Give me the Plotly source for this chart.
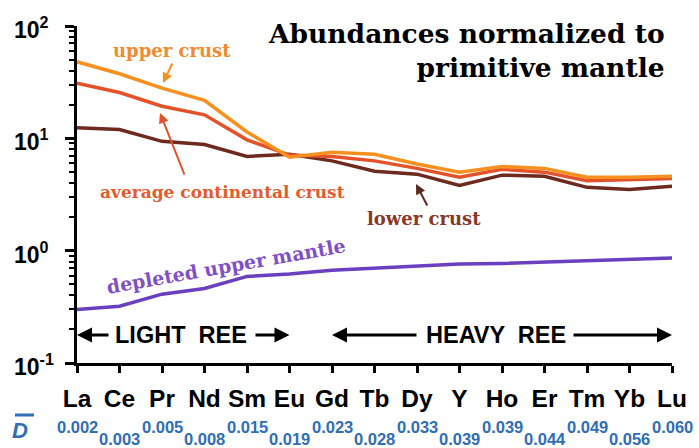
import math
import plotly.graph_objects as go

# ---------------- data ----------------
elements = ["La", "Ce", "Pr", "Nd", "Sm", "Eu", "Gd", "Tb", "Dy", "Y", "Ho", "Er", "Tm", "Yb", "Lu"]
d_bar = ["0.002", "0.003", "0.005", "0.008", "0.015", "0.019", "0.023", "0.028",
         "0.033", "0.039", "0.039", "0.044", "0.049", "0.056", "0.060"]
upper_crust = [48, 37.6, 28, 21.8, 11.4, 6.8, 7.5, 7.2, 5.9, 5.0, 5.6, 5.4, 4.5, 4.5, 4.6]
avg_crust = [31, 25.6, 19.3, 16.2, 9.7, 7.1, 6.9, 6.3, 5.4, 4.5, 5.3, 5.0, 4.2, 4.3, 4.4]
lower_crust = [12.4, 12.0, 9.4, 8.8, 6.9, 7.2, 6.3, 5.1, 4.8, 3.8, 4.7, 4.6, 3.66, 3.5, 3.75]
depleted_mantle = [0.30, 0.32, 0.41, 0.46, 0.59, 0.62, 0.67, 0.70, 0.74, 0.76, 0.77, 0.79, 0.81, 0.83, 0.86]
y_tick_exponents = [-1, 0, 1, 2]

# ---------------- layout geometry ----------------
W, H = 699, 448
ML, MR, MT, MB = 77, 27, 26, 85
PW, PH = W - ML - MR, H - MT - MB
N = len(elements)
x = list(range(N))
YMIN, YMAX = -1, 2

def dx(px):  # pixel -> data x
    return (px - ML) / PW * (N - 1)

def dy(py):  # pixel -> log10 y
    return YMAX - (py - MT) / PH * (YMAX - YMIN)

def px_paper(px):
    return (px - ML) / PW

def py_paper(py):
    return (H - MB - py) / PH

C_UP = "#F7901E"
C_AVG = "#E4522A"
C_LOW = "#6E2A1E"
C_DMM = "#6A3FC0"
C_BLUE = "#2F6EB8"
SERIF = "DejaVu Serif"
SANS = "Liberation Sans"

fig = go.Figure()
fig.add_trace(go.Scatter(x=x, y=depleted_mantle, mode="lines", line=dict(color=C_DMM, width=3.5)))
fig.add_trace(go.Scatter(x=x, y=lower_crust, mode="lines", line=dict(color=C_LOW, width=3.5)))
fig.add_trace(go.Scatter(x=x, y=avg_crust, mode="lines", line=dict(color=C_AVG, width=3.5)))
fig.add_trace(go.Scatter(x=x, y=upper_crust, mode="lines", line=dict(color=C_UP, width=3.5)))

minor_vals = [m * 10 ** e for e in y_tick_exponents[:-1] for m in range(2, 10)]

annotations = []
# y tick labels (left aligned)
for e in y_tick_exponents:
    annotations.append(dict(
        text="10<sup>%d</sup>" % e, xref="paper", x=0, xshift=12 - ML, xanchor="left",
        yref="y", y=e, yanchor="middle", yshift=-2, showarrow=False,
        font=dict(family=SANS, size=23, color="black", weight="bold")))

# title
annotations.append(dict(
    text="Abundances normalized to<br>primitive mantle", xref="paper", x=px_paper(667),
    xanchor="right", align="right", yref="paper", y=py_paper(50.5), yanchor="middle",
    showarrow=False, font=dict(family=SERIF, size=26.5, color="black", weight="bold")))

def label(text, cx, cy, color, angle=0, size=17):
    annotations.append(dict(text=text, x=dx(cx), y=dy(cy), xref="x", yref="y",
                            showarrow=False, textangle=angle,
                            font=dict(family=SERIF, size=size, color=color, weight="bold")))

def arrow(tail, head, color, width=2, size=1.0):
    annotations.append(dict(text="", x=dx(head[0]), y=dy(head[1]), xref="x", yref="y",
                            ax=dx(tail[0]), ay=dy(tail[1]), axref="x", ayref="y",
                            showarrow=True, arrowhead=2, arrowsize=size, arrowwidth=width,
                            arrowcolor=color))

label("upper crust", 172, 50, "#F38A30", size=18)
arrow((173, 62), (163, 83), C_UP)
label("average continental crust", 222, 192, "#E65A2C", size=17)
arrow((185, 176), (160, 113), C_AVG)
label("lower crust", 424, 218, "#8A3826", size=18)
arrow((428, 207), (416, 184), "#5A2A20")
label("depleted upper mantle", 226, 266, "#8050C8", angle=-10, size=19)

# REE range markers
ree_y = 335
for txt, cx in [("LIGHT  REE", 181), ("HEAVY  REE", 496)]:
    annotations.append(dict(text=txt, x=dx(cx), y=dy(ree_y), xref="x", yref="y",
                            showarrow=False,
                            font=dict(family=SANS, size=23.5, color="black", weight="bold")))
for tail_px, head_idx in [(110, 0), (254, 5), (418, 6), (572, 14)]:
    annotations.append(dict(text="", x=head_idx, y=dy(ree_y), xref="x", yref="y",
                            ax=dx(tail_px), ay=dy(ree_y), axref="x", ayref="y",
                            showarrow=True, arrowhead=2, arrowsize=1.0, arrowwidth=3,
                            arrowcolor="black"))

# D-bar values
for i, v in enumerate(d_bar):
    annotations.append(dict(text=v, x=i, xref="x", yref="paper",
                            y=py_paper(427 if i % 2 == 0 else 439), yanchor="middle",
                            showarrow=False,
                            font=dict(family=SANS, size=16.5, color=C_BLUE, weight="bold")))
annotations.append(dict(text="<i>D</i>", xref="paper", x=px_paper(10), xanchor="left",
                        yref="paper", y=py_paper(430), yanchor="middle", showarrow=False,
                        font=dict(family=SANS, size=22, color=C_BLUE, weight="bold")))

shapes = [dict(type="line", xref="paper", yref="paper",
               x0=px_paper(15), x1=px_paper(34), y0=py_paper(415), y1=py_paper(415),
               line=dict(color=C_BLUE, width=3))]

fig.update_layout(
    width=W, height=H, autosize=False,
    margin=dict(l=ML, r=MR, t=MT, b=MB),
    paper_bgcolor="white", plot_bgcolor="white",
    showlegend=False,
    annotations=annotations, shapes=shapes,
    xaxis=dict(range=[0, N - 1], tickmode="array", tickvals=x, ticktext=elements,
               showline=True, linecolor="black", linewidth=3, ticks="outside",
               ticklen=7, tickwidth=2.5, tickcolor="black", showgrid=False, zeroline=False,
               ticklabelstandoff=5,
               tickfont=dict(family=SANS, size=24.5, color="black", weight="bold")),
    yaxis=dict(type="log", range=[YMIN, YMAX], tickmode="array",
               tickvals=[10 ** e for e in y_tick_exponents], showticklabels=False,
               showline=True, linecolor="black", linewidth=3, ticks="outside",
               ticklen=9, tickwidth=2.5, tickcolor="black", showgrid=False, zeroline=False,
               minor=dict(tickmode="array", tickvals=minor_vals, ticks="outside",
                          ticklen=5, tickwidth=2, tickcolor="black", showgrid=False)),
)

fig.write_html("out.html", config={"displayModeBar": False},
               post_script="document.body.style.margin='0px';document.body.style.overflow='hidden';")
